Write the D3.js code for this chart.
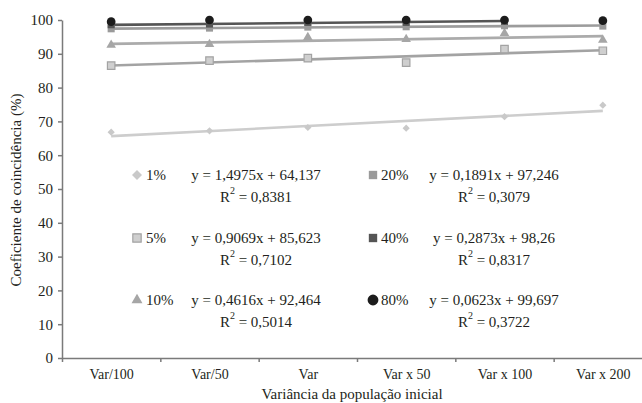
<!DOCTYPE html>
<html>
<head>
<meta charset="utf-8">
<script src="https://cdn.jsdelivr.net/npm/d3@7"></script>
<style>
  body { margin: 0; background: #fff; }
  svg { display: block; font-family: "Liberation Serif", "Times New Roman", serif; }
  .axis path, .axis line { stroke: #7a7a7a; stroke-width: 1.5; }
  .axis text { fill: #231f20; font-size: 15px; font-family: "Liberation Serif", serif; }
</style>
</head>
<body>
<div id="chart"></div>
<script>
// data
var categories = ["Var/100", "Var/50", "Var", "Var x 50", "Var x 100", "Var x 200"];
var serie1  = [66.8, 67.2, 68.2, 68.0, 71.4, 74.8];
var serie5  = [86.5, 88.0, 88.7, 87.4, 91.4, 90.9];
var serie10 = [92.6, 92.8, 94.9, 94.3, 96.1, 94.1];
var serie20 = [97.4, 97.6, 97.9, 98.0, 98.3, 98.2];
var serie40 = [98.6, 98.8, 99.3, 99.3, 99.6];
var serie80 = [99.5, 100, 100, 100, 100, 99.8];
var seriesNames = ["1%", "5%", "10%", "20%", "40%", "80%"];
var slopes = [1.4975, 0.9069, 0.4616, 0.1891, 0.2873, 0.0623];
var intercepts = [64.137, 85.623, 92.464, 97.246, 98.26, 99.697];
var equations = ["y = 1,4975x + 64,137", "y = 0,9069x + 85,623", "y = 0,4616x + 92,464",
                 "y = 0,1891x + 97,246", "y = 0,2873x + 98,26", "y = 0,0623x + 99,697"];
var r2 = ["0,8381", "0,7102", "0,5014", "0,3079", "0,8317", "0,3722"];
var yTicks = [0, 10, 20, 30, 40, 50, 60, 70, 80, 90, 100];

var width = 642, height = 403;
var svg = d3.select('#chart').append('svg')
  .attr('width', width)
  .attr('height', height);

var x = d3.scaleLinear().domain([0.5, 6.5]).range([62, 652]);
var y = d3.scaleLinear().domain([0, 100]).range([358, 20]);

var styles = [
  { sym: 'diamond', fill: '#c9c9c9', stroke: 'none', line: '#cdcdcd', size: 26, legSize: 50, trend: true },
  { sym: 'square', fill: '#cfcfcf', stroke: '#a3a3a3', line: '#a3a3a3', size: 56, legSize: 70, trend: true },
  { sym: 'triangle', fill: '#a6a6a6', stroke: 'none', line: '#ababab', size: 40, legSize: 52, trend: true },
  { sym: 'square', fill: '#9a9a9a', stroke: 'none', line: '#9c9c9c', size: 50, legSize: 70, trend: true },
  { sym: 'square', fill: '#555555', stroke: 'none', line: '#555555', size: 50, legSize: 70, trend: true },
  { sym: 'circle', fill: '#1c1c1c', stroke: 'none', line: 'none', size: 60, legSize: 92, trend: false }
];
var allSeries = [serie1, serie5, serie10, serie20, serie40, serie80];

function symbolPath(s, size) {
  var type = s === 'circle' ? d3.symbolCircle : s === 'triangle' ? d3.symbolTriangle : d3.symbolSquare;
  return d3.symbol().type(type).size(size)();
}

// axes
svg.append('g')
  .attr('class', 'axis')
  .attr('transform', 'translate(62,0)')
  .call(d3.axisLeft(y).tickValues(yTicks).tickSize(4).tickPadding(5).tickSizeOuter(0));

svg.append('g')
  .attr('class', 'axis')
  .attr('transform', 'translate(0,358)')
  .call(d3.axisBottom(x).tickValues(d3.range(0.5, 6.5, 1)).tickSize(4).tickFormat('').tickSizeOuter(0));

var xLabels = svg.append('g')
  .attr('class', 'axis')
  .attr('transform', 'translate(0,358)')
  .call(d3.axisBottom(x).tickValues(d3.range(1, 7)).tickSize(0).tickPadding(11)
    .tickFormat(function(d) { return categories[d - 1]; }));
xLabels.select('.domain').remove();
xLabels.selectAll('text').style('font-size', '14px');

// titles
svg.append('text')
  .attr('x', 352).attr('y', 399)
  .attr('text-anchor', 'middle')
  .style('font-size', '15px').style('fill', '#231f20')
  .text('Variância da população inicial');

svg.append('text')
  .attr('transform', 'translate(21,190) rotate(-90)')
  .attr('text-anchor', 'middle')
  .style('font-size', '15px').style('fill', '#231f20')
  .text('Coeficiente de coincidência (%)');

// trend lines from the printed equations
allSeries.forEach(function(vals, i) {
  if (!styles[i].trend) return;
  var n = vals.length;
  svg.append('line')
    .attr('x1', x(1)).attr('y1', y(intercepts[i] + slopes[i]))
    .attr('x2', x(n)).attr('y2', y(intercepts[i] + slopes[i] * n))
    .style('stroke', styles[i].line)
    .style('stroke-width', 2.6);
});

// markers
allSeries.forEach(function(vals, i) {
  var st = styles[i];
  svg.append('g').selectAll('path')
    .data(vals)
    .enter().append('path')
    .attr('d', symbolPath(st.sym, st.size))
    .attr('transform', function(d, j) {
      return 'translate(' + x(j + 1) + ',' + y(d) + ')' + (st.sym === 'diamond' ? ' rotate(45)' : '');
    })
    .style('fill', st.fill)
    .style('stroke', st.stroke)
    .style('stroke-width', 1.2);
});

// legend
var rowY = [175, 238, 300];
var cols = [{ mark: 137, label: 146, eq: 256 }, { mark: 373, label: 381, eq: 494 }];
seriesNames.forEach(function(name, i) {
  var col = cols[i < 3 ? 0 : 1];
  var ry = rowY[i % 3];
  var st = styles[i];
  var g = svg.append('g');
  g.append('path')
    .attr('d', symbolPath(st.sym, st.legSize))
    .attr('transform', 'translate(' + col.mark + ',' + ry + ')' + (st.sym === 'diamond' ? ' rotate(45)' : ''))
    .style('fill', st.fill)
    .style('stroke', st.stroke)
    .style('stroke-width', 1.2);
  g.append('text')
    .attr('x', col.label).attr('y', ry + 5)
    .style('font-size', '15px').style('fill', '#231f20')
    .text(name);
  g.append('text')
    .attr('x', col.eq).attr('y', ry + 5)
    .attr('text-anchor', 'middle')
    .style('font-size', '15px').style('fill', '#231f20')
    .text(equations[i]);
  var rt = g.append('text')
    .attr('x', col.eq).attr('y', ry + 27)
    .attr('text-anchor', 'middle')
    .style('font-size', '15px').style('fill', '#231f20');
  rt.append('tspan').text('R');
  rt.append('tspan').attr('dy', -8).style('font-size', '10px').text('2');
  rt.append('tspan').attr('dy', 8).text(' = ' + r2[i]);
});
</script>
</body>
</html>
